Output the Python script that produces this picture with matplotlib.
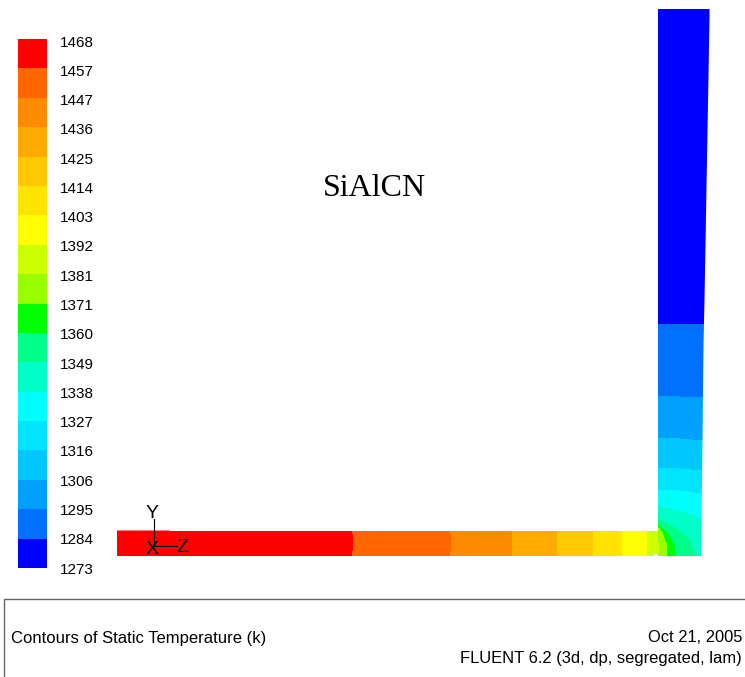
import matplotlib
matplotlib.use('Agg')
import matplotlib.pyplot as plt
from matplotlib.patches import Polygon

plt.rcParams['font.family'] = ['Liberation Sans', 'DejaVu Sans']

# colour scale, hot end first
levels = [1468, 1457, 1447, 1436, 1425, 1414, 1403, 1392, 1381, 1371,
          1360, 1349, 1338, 1327, 1316, 1306, 1295, 1284, 1273]
band_colors = ['#ff0000', '#ff6600', '#ff8c00', '#ffaa00', '#ffc800', '#ffe400',
               '#ffff00', '#ccff00', '#99ff00', '#00ff00', '#00ff88', '#00ffc8',
               '#00ffff', '#00e4ff', '#00c8ff', '#00a0ff', '#0070ff', '#0000ff']

# outline of the part, in image pixels
part_x = [117, 170, 170, 658, 658, 709.5, 709.5, 704.5, 703.5, 702.5, 701, 657, 657, 654, 654, 117]
part_y = [530.5, 530.5, 531, 531, 9, 9, 19, 300, 345, 440, 556, 556, 554, 554, 556, 556]

# contour lines between neighbouring bands, walking from the hot end to the cold end
contour_x = [
    [100, 100],
    [352, 354, 352],
    [450, 452, 450],
    [513, 512, 513],
    [557, 557],
    [593, 593],
    [622, 622],
    [647, 647],
    [658, 659, 660],
    [658, 663, 667, 668],
    [658, 668, 675, 677],
    [658, 673, 690, 697],
    [658, 680, 702],
    [658, 680, 702],
    [658, 680, 702],
    [658, 680, 702],
    [658, 680, 704],
    [658, 680, 704],
    [658, 704],
]
contour_y = [
    [525, 560],
    [525, 543, 560],
    [525, 543, 560],
    [525, 543, 560],
    [525, 560],
    [525, 560],
    [525, 560],
    [525, 560],
    [531, 543, 560],
    [525, 532, 543, 560],
    [524, 532, 545, 560],
    [518, 525, 538, 560],
    [506, 510, 518],
    [489, 490, 493],
    [468, 468, 470],
    [438, 438, 440],
    [396, 396, 397],
    [324, 323, 324],
    [0, 0],
]

triad_x = [154, 154, 177]
triad_y = [519, 546, 546]

fig = plt.figure(figsize=(7.45, 6.77), dpi=100)
ax = fig.add_axes([0, 0, 1, 1])
ax.set_xlim(0, 745)
ax.set_ylim(677, 0)
ax.axis('off')

# part outline only clips, each band sits between two contour lines
part = Polygon(list(zip(part_x, part_y)), closed=True, facecolor='none', edgecolor='none')
ax.add_patch(part)
for i, c in enumerate(band_colors):
    x0, y0 = contour_x[i], contour_y[i]
    x1, y1 = contour_x[i + 1], contour_y[i + 1]
    px = x0 + [760, 760] + x1[::-1]
    py = y0 + [y0[-1], y1[-1]] + y1[::-1]
    for poly in ax.fill(px, py, color=c, linewidth=0, antialiased=False):
        poly.set_clip_path(part)

# triad
ax.plot(triad_x, triad_y, color='black', lw=0.8)
ax.text(152, 513, 'Y', fontsize=14, ha='center', va='center')
ax.text(152, 550, 'X', fontsize=14, ha='center', va='center')
ax.text(182, 547, 'Z', fontsize=14, ha='center', va='center')

ax.text(374.5, 189, 'SiAlCN', fontsize=23, family='Liberation Serif', ha='center', va='center')

# footer box
ax.plot([745, 4, 4], [598.5, 598.5, 677], color='#666666', lw=1)
ax.text(11, 638, 'Contours of Static Temperature (k)', fontsize=12, ha='left', va='center')
ax.text(742, 637, 'Oct 21, 2005', fontsize=11.9, ha='right', va='center')
ax.text(742, 658, 'FLUENT 6.2 (3d, dp, segregated, lam)', fontsize=11.9, ha='right', va='center')

# colour bar
cax = fig.add_axes([17.5 / 745, 1 - 568 / 677, 29.5 / 745, 529 / 677])
n = len(band_colors)
cax.bar([0] * n, [1] * n, width=1, bottom=[n - 1 - i for i in range(n)], color=band_colors, linewidth=0)
cax.set_xlim(-0.5, 0.5)
cax.set_ylim(0, n)
cax.set_xticks([])
cax.yaxis.tick_right()
# labels drift about 2px below the band edges towards the top
cax.set_yticks([i * 0.9962 for i in range(n + 1)])
cax.set_yticklabels(levels[::-1], fontsize=11)
cax.tick_params(axis='y', length=0, pad=9.5)
for s in cax.spines.values():
    s.set_visible(False)

fig.savefig('out.png', dpi=100)
